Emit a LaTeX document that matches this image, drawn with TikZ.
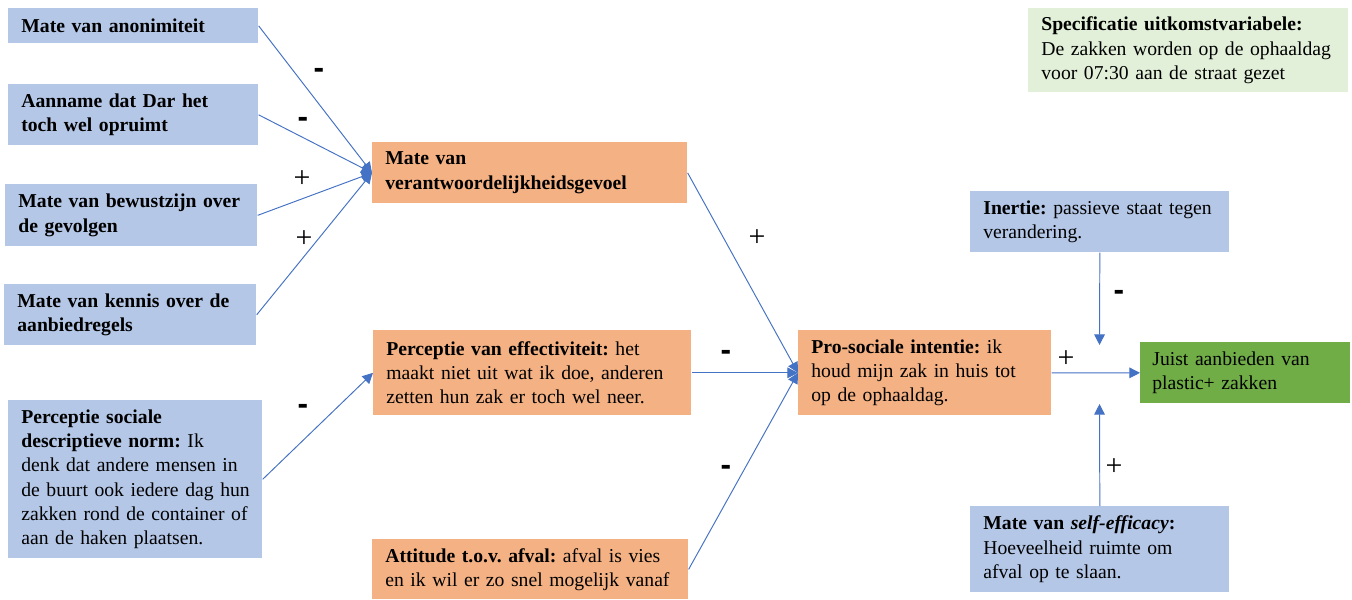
\documentclass[tikz,border=0pt]{standalone}
\usepackage{fontspec}
\setmainfont{Liberation Serif}
\newfontfamily\tekenfont{Liberation Sans}
\usetikzlibrary{arrows.meta}
\definecolor{blauw}{HTML}{B4C7E7}
\definecolor{oranje}{HTML}{F4B183}
\definecolor{groen}{HTML}{70AD47}
\definecolor{lichtgroen}{HTML}{E2F0D9}
\definecolor{pijlkleur}{HTML}{4472C4}
\frenchspacing
\hyphenpenalty=10000
\exhyphenpenalty=10000
\hfuzz=20pt
\tikzset{
	blok/.style={anchor=north west, align=left, inner xsep=0.26cm, inner ysep=0pt, font=\fontsize{11.2}{13.8}\selectfont},
	pijl/.style={draw=pijlkleur, line width=0.55pt, -{Triangle[length=6pt,width=6pt]}},
	min/.style={font=\tekenfont\bfseries\fontsize{18}{18}\selectfont, inner sep=0pt},
	plus/.style={font=\fontsize{17}{17}\selectfont, inner sep=0pt},
}

\begin{document}
\begin{tikzpicture}[x=0.02cm, y=-0.02cm]
			%%%%% START %%%%%
			\useasboundingbox (0,0) rectangle (1352,599);
			
			% linker kolom
			\node[blok, fill=blauw, text width=4.48cm, minimum height=0.70cm] (anon) at (8,8) {\textbf{Mate van anonimiteit}};
			\node[blok, fill=blauw, text width=4.48cm, minimum height=1.22cm] (aanname) at (8,84) {\textbf{Aanname dat Dar het}\\\textbf{toch wel opruimt}};
			\node[blok, fill=blauw, text width=4.52cm, minimum height=1.24cm] (bewust) at (5,184) {\mbox{\textbf{Mate van bewustzijn over}}\\\textbf{de gevolgen}};
			\node[blok, fill=blauw, text width=4.52cm, minimum height=1.22cm] (kennis) at (4,284) {\mbox{\textbf{Mate van kennis over de}}\\\textbf{aanbiedregels}};
			\node[blok, fill=blauw, text width=4.56cm, minimum height=3.16cm] (norm) at (8,400) {\textbf{Perceptie sociale}\\\mbox{\textbf{descriptieve norm:} Ik}\\\mbox{denk dat andere mensen in}\\\mbox{de buurt ook iedere dag hun}\\\mbox{zakken rond de container of}\\aan de haken plaatsen.};
			
			% middelste kolom
			\node[blok, fill=oranje, text width=5.78cm, minimum height=1.22cm] (verant) at (372,142) {\textbf{Mate van}\\\textbf{verantwoordelijkheidsgevoel}};
			\node[blok, fill=oranje, text width=5.84cm, minimum height=1.70cm] (effect) at (373,330) {\mbox{\textbf{Perceptie van effectiviteit:} het}\\\mbox{maakt niet uit wat ik doe, anderen}\\\mbox{zetten hun zak er toch wel neer.}};
			\node[blok, fill=oranje, text width=5.80cm, minimum height=1.20cm] (attitude) at (372,539) {\mbox{\textbf{Attitude t.o.v. afval:} afval is vies}\\\mbox{en ik wil er zo snel mogelijk vanaf}};
			
			% rechter deel
			\node[blok, fill=oranje, text width=4.54cm, minimum height=1.70cm] (intentie) at (798,330) {\mbox{\textbf{Pro-sociale intentie:} ik}\\\mbox{houd mijn zak in huis tot}\\op de ophaaldag.};
			\node[blok, fill=groen, text width=3.72cm, minimum height=1.22cm, inner xsep=0.24cm] (gedrag) at (1140,342) {Juist aanbieden van\\plastic+ zakken};
			\node[blok, fill=blauw, text width=4.66cm, minimum height=1.22cm] (inertie) at (970,191) {\mbox{\textbf{Inertie:} passieve staat tegen}\\verandering.};
			\node[blok, fill=blauw, text width=4.66cm, minimum height=1.72cm] (efficacy) at (970,506) {\textbf{Mate van \textit{self-efficacy}:}\\Hoeveelheid ruimte om\\afval op te slaan.};
			\node[blok, fill=lichtgroen, text width=5.88cm, minimum height=1.68cm] (spec) at (1028,8) {\mbox{\textbf{Specificatie uitkomstvariabele:}}\\\mbox{De zakken worden op de ophaaldag}\\\mbox{voor 07:30 aan de straat gezet}};
			
			% pijlen
			\draw[pijl] (anon.east) -- (verant.west);
			\draw[pijl] (aanname.east) -- (verant.west);
			\draw[pijl] (bewust.east) -- (verant.west);
			\draw[pijl] (kennis.east) -- (verant.west);
			\draw[pijl] (norm.east) -- (effect.west);
			
			\draw[pijl] (verant.east) -- (intentie.west);
			\draw[pijl] (effect.east) -- (intentie.west);
			\draw[pijl] (attitude.east) -- (intentie.west);
			\draw[pijl] (intentie.east) -- (gedrag.west);
			
			\coordinate (boven) at (1099.5,345);
			\coordinate (onder) at (1099.5,404);
			\draw[pijl] (inertie.south) -- (boven);
			\draw[pijl] (efficacy.north) -- (onder);
			
			% tekens
			\node[min] (tAnon) at (319,73) {-};
			\node[min] (tAanname) at (303,122) {-};
			\node[plus] (tBewust) at (302,179) {+};
			\node[plus] (tKennis) at (304,239) {+};
			\node[min] (tNorm) at (303,409) {-};
			\node[plus] (tVerant) at (757,238) {+};
			\node[min] (tEffect) at (726,355) {-};
			\node[min] (tAttitude) at (726,470) {-};
			\node[plus] (tIntentie) at (1066,359) {+};
			\node[min] (tInertie) at (1119,295) {-};
			\node[plus] (tEfficacy) at (1114,467) {+};
			
			%%%%% END %%%%%
\end{tikzpicture}
\end{document}
